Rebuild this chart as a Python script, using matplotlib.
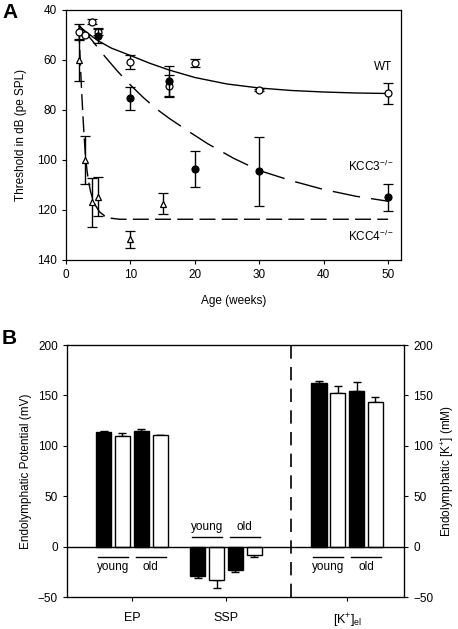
import matplotlib
matplotlib.use('Agg')
import matplotlib.pyplot as plt
import numpy as np

plt.rcParams['font.family'] = ['Liberation Sans', 'DejaVu Sans']
plt.rcParams['mathtext.fontset'] = 'custom'
plt.rcParams['mathtext.rm'] = 'Liberation Sans'
plt.rcParams['mathtext.it'] = 'Liberation Sans:italic'
plt.rcParams['mathtext.bf'] = 'Liberation Sans:bold'

# ---------------- Panel A data ----------------
wt_x = [2, 3, 4, 5, 10, 16, 20, 30, 50]
wt_y = [48.7, 50.0, 44.7, 48.8, 60.7, 70.4, 61.2, 72.0, 73.3]
wt_err = [3.3, 0.0, 1.0, 1.2, 2.7, 4.5, 1.5, 0.5, 4.3]

kcc3_x = [5, 10, 16, 20, 30, 50]
kcc3_y = [50.3, 75.3, 68.3, 103.6, 104.5, 114.9]
kcc3_err = [3.0, 4.5, 6.0, 7.3, 13.7, 5.4]

kcc4_x = [2, 3, 4, 5, 10, 15]
kcc4_y = [60.0, 100.0, 116.9, 114.6, 131.6, 117.4]
kcc4_err = [8.3, 9.7, 9.7, 7.7, 3.4, 4.1]

# fitted curves
wt_fit_x = [2, 3, 4, 5, 7, 10, 13, 16, 20, 25, 30, 35, 40, 45, 50]
wt_fit_y = [46.5, 48.5, 50.5, 52.3, 55.2, 58.2, 61.3, 64.0, 67.0, 69.6, 71.2, 72.2, 72.8, 73.2, 73.4]

kcc3_fit_x = [2, 4, 6, 8, 10, 12, 14, 16, 19, 22, 26, 30, 35, 40, 45, 50]
kcc3_fit_y = [46, 52, 58.5, 64.5, 70, 75, 79.5, 83.3, 88.5, 93.5, 99.3, 104.2, 108.3, 111.8, 114.5, 116.5]

kcc4_fit_x = [2, 2.2, 2.4, 2.6, 2.8, 3.0, 3.25, 3.5, 3.8, 4.1, 4.6, 5.2, 6.0, 6.7, 8.3, 50]
kcc4_fit_y = [47, 60, 71, 81, 90, 97.5, 104, 108.5, 112.5, 115.3, 118.3, 120.7, 122.4, 123.2, 123.7, 123.7]

a_xticks = [0, 10, 20, 30, 40, 50]
a_yticks = [40, 60, 80, 100, 120, 140]

# ---------------- Panel B data ----------------
b_categories = ['EP', 'SSP', r'[K$^{+}$]$_{\rm el}$']
b_positions = [1.0, 2.0, 3.29]
b_divider = 2.69
ep_vals = [113.2, 109.5, 114.9, 110.3]
ep_err = [1.0, 2.8, 1.7, 0.8]
ssp_vals = [-29.6, -32.9, -23.0, -7.9]
ssp_err = [2.0, 8.5, 2.3, 2.3]
k_vals = [162.7, 152.8, 154.8, 143.3]
k_err = [2.0, 6.9, 8.9, 5.5]
bar_colors = ['black', 'white', 'black', 'white']
bar_offsets = [-0.3, -0.1, 0.1, 0.3]
b_yticks = [-50, 0, 50, 100, 150, 200]

FS = 8.5

fig = plt.figure(figsize=(4.58, 6.29), dpi=100)

# ================= Panel A =================
axA = fig.add_axes([66/458, 1-260/629, 335/458, 250/629])
axA.plot(wt_fit_x, wt_fit_y, color='black', lw=1.0, zorder=2)
l3, = axA.plot(kcc3_fit_x, kcc3_fit_y, color='black', lw=1.0, zorder=2)
l3.set_dashes([20, 8])
l4, = axA.plot(kcc4_fit_x, kcc4_fit_y, color='black', lw=1.0, zorder=2)
l4.set_dashes([11.5, 4.5])

axA.errorbar(kcc4_x, kcc4_y, yerr=kcc4_err, fmt='^', mfc='white', mec='black',
             ms=5, mew=0.9, ecolor='black', elinewidth=1.0, capsize=3.5, capthick=1.0, zorder=4)
axA.errorbar(wt_x, wt_y, yerr=wt_err, fmt='o', mfc='white', mec='black',
             ms=5, mew=0.9, ecolor='black', elinewidth=1.0, capsize=3.5, capthick=1.0, zorder=4)
axA.errorbar(kcc3_x, kcc3_y, yerr=kcc3_err, fmt='o', mfc='black', mec='black',
             ms=5, mew=0.9, ecolor='black', elinewidth=1.0, capsize=3.5, capthick=1.0, zorder=5)

axA.set_xlim(0, 52)
axA.set_ylim(140, 40)
axA.set_xticks(a_xticks)
axA.set_yticks(a_yticks)
axA.tick_params(direction='out', length=3, width=0.8, labelsize=FS, top=False, right=False)
for s in axA.spines.values():
    s.set_linewidth(0.9)
axA.set_xlabel('Age (weeks)', fontsize=FS, labelpad=10)
axA.set_ylabel('Threshold in dB (pe SPL)', fontsize=FS, labelpad=7)

axA.text(50.6, 62.7, 'WT', ha='right', va='center', fontsize=FS)
axA.text(50.9, 102.4, r'KCC3$^{-/-}$', ha='right', va='center', fontsize=FS)
axA.text(50.9, 130.4, r'KCC4$^{-/-}$', ha='right', va='center', fontsize=FS)

fig.text(2/458, 1-12/629, 'A', fontsize=15, fontweight='bold', ha='left', va='center')

# ================= Panel B =================
axB = fig.add_axes([67/458, 1-597/629, 337/458, 252/629])
for pos, vals, errs, neg in [(b_positions[0], ep_vals, ep_err, False),
                             (b_positions[1], ssp_vals, ssp_err, True),
                             (b_positions[2], k_vals, k_err, False)]:
    for off, v, e, c in zip(bar_offsets, vals, errs, bar_colors):
        axB.bar(pos + off, v, width=0.16, color=c, edgecolor='black', linewidth=1.0, zorder=3)
        if neg:
            yerr = [[e], [0]]
        else:
            yerr = [[0], [e]]
        axB.errorbar(pos + off, v, yerr=yerr, fmt='none', ecolor='black',
                     elinewidth=1.0, capsize=3, capthick=1.0, zorder=2)

axB.axhline(0, color='black', lw=1.0, zorder=4)
axB.axvline(b_divider, color='black', lw=1.2, dashes=[8, 5], zorder=1)

# group annotations
def group_label(center, y_line, y_text):
    for lo, hi, txt in [(-0.36, -0.04, 'young'), (0.04, 0.36, 'old')]:
        axB.plot([center + lo, center + hi], [y_line, y_line], color='black', lw=1.0, zorder=4)
        axB.text(center + (lo + hi) / 2, y_text, txt, ha='center', va='center', fontsize=FS)

group_label(b_positions[0], -10, -20)
group_label(b_positions[1], 10, 19.5)
group_label(b_positions[2], -10, -20)

axB.set_xlim(0.31, 3.894)
axB.set_ylim(-50, 200)
axB.set_yticks(b_yticks)
axB.set_xticks(b_positions)
axB.set_xticklabels(b_categories)
axB.tick_params(direction='out', length=3, width=0.8, labelsize=FS, top=False, right=False)
axB.tick_params(axis='x', labelsize=FS+0.5, pad=8)
for s in axB.spines.values():
    s.set_linewidth(0.9)
axB.set_ylabel('Endolymphatic Potential (mV)', fontsize=FS, labelpad=4)

axB2 = axB.twinx()
axB2.set_ylim(-50, 200)
axB2.set_yticks(b_yticks)
axB2.tick_params(direction='out', length=3, width=0.8, labelsize=FS)
axB2.set_ylabel(r'Endolymphatic [K$^{+}$] (mM)', fontsize=FS, labelpad=4, rotation=90)

fig.text(2/458, 1-338/629, 'B', fontsize=15, fontweight='bold', ha='left', va='center')

fig.savefig('out.png', dpi=100)
